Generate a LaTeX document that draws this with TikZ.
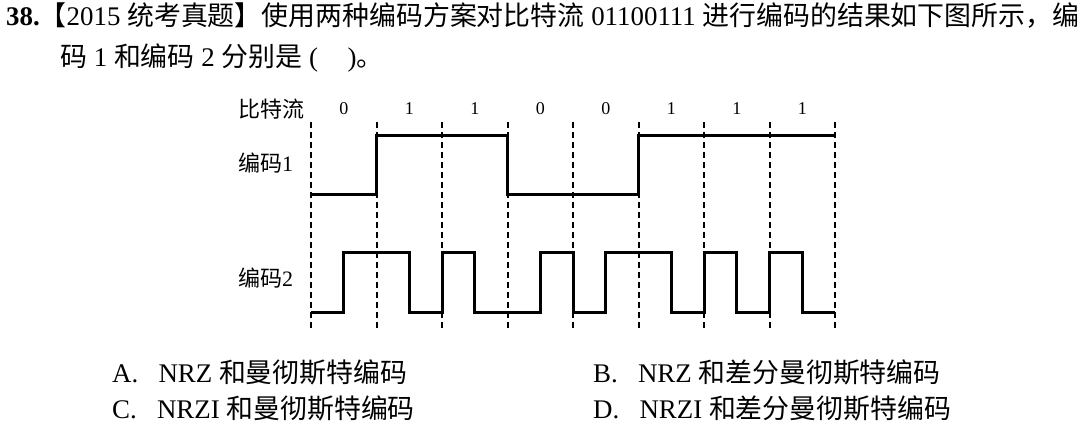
\documentclass[tikz,border=0pt]{standalone}
\usepackage{fontspec}
\setmainfont{Liberation Serif}
\newfontfamily\cjk{Noto Sans CJK SC}
\newcommand\zh[1]{{\cjk #1}}
\usetikzlibrary{positioning}

\begin{document}
\begin{tikzpicture}[x=1pt,y=-1pt,
 txt/.style={anchor=west,inner sep=0pt,font=\fontsize{26.9}{30}\selectfont},
 lbl/.style={anchor=west,inner sep=0pt,font=\fontsize{22}{24}\selectfont},
 bitlbl/.style={inner sep=0pt,font=\fontsize{18}{20}\selectfont},
 clock/.style={line width=2pt,dash pattern=on 6pt off 4pt},
 signal/.style={line width=3pt,line join=miter}]
\useasboundingbox (0,0) rectangle (1091,433);
% question
\node[txt] (line1) at (6,16) {{\bfseries 38.}\zh{【}2015 \zh{统考真题】使用两种编码方案对比特流} 01100111 \zh{进行编码的结果如下图所示，编}};
\node[txt] (line2) at (60,58) {\zh{码} 1 \zh{和编码} 2 \zh{分别是} (\hspace{1.1em})\zh{。}};
% row labels
\node[lbl] (stream) at (238,109) {\zh{比特流}};
\node[lbl] (code1) at (238,163) {\zh{编码}1};
\node[lbl] (code2) at (238,278) {\zh{编码}2};
% bits
\node[bitlbl] (bit0) at (343.75,109) {0};
\node[bitlbl] (bit1) at (409.25,109) {1};
\node[bitlbl] (bit2) at (474.75,109) {1};
\node[bitlbl] (bit3) at (540.25,109) {0};
\node[bitlbl] (bit4) at (605.75,109) {0};
\node[bitlbl] (bit5) at (671.25,109) {1};
\node[bitlbl] (bit6) at (736.75,109) {1};
\node[bitlbl] (bit7) at (802.25,109) {1};
% bit boundaries
\draw[clock] (311,122) -- (311,330);
\draw[clock] (376.5,122) -- (376.5,330);
\draw[clock] (442,122) -- (442,330);
\draw[clock] (507.5,122) -- (507.5,330);
\draw[clock] (573,122) -- (573,330);
\draw[clock] (638.5,122) -- (638.5,330);
\draw[clock] (704,122) -- (704,330);
\draw[clock] (769.5,122) -- (769.5,330);
\draw[clock] (835,122) -- (835,330);
% code 1
\draw[signal] (311,194) -- (376.5,194) -- (376.5,135) -- (507.5,135) -- (507.5,194)
  -- (638.5,194) -- (638.5,135) -- (835,135);
% code 2
\draw[signal] (311,312) -- (343.75,312) -- (343.75,252) -- (409.25,252) -- (409.25,312)
  -- (442,312) -- (442,252) -- (474.75,252) -- (474.75,312) -- (540.25,312)
  -- (540.25,252) -- (573,252) -- (573,312) -- (605.75,312) -- (605.75,252)
  -- (671.25,252) -- (671.25,312) -- (704,312) -- (704,252) -- (736.75,252)
  -- (736.75,312) -- (769.5,312) -- (769.5,252) -- (802.25,252) -- (802.25,312)
  -- (835,312);
% choices
\node[txt] (optA) at (112,372) {A.\hspace{0.75em}NRZ \zh{和曼彻斯特编码}};
\node[txt] (optB) at (593,372) {B.\hspace{0.75em}NRZ \zh{和差分曼彻斯特编码}};
\node[txt] (optC) at (112,408) {C.\hspace{0.75em}NRZI \zh{和曼彻斯特编码}};
\node[txt] (optD) at (593,408) {D.\hspace{0.75em}NRZI \zh{和差分曼彻斯特编码}};
\end{tikzpicture}
\end{document}
